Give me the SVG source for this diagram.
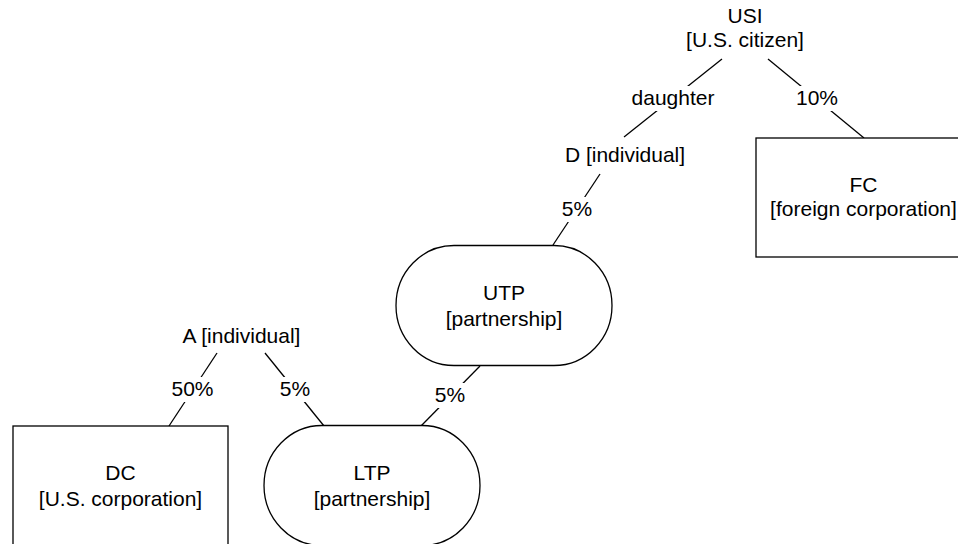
<svg xmlns="http://www.w3.org/2000/svg" width="958" height="544" viewBox="0 0 958 544">
<style>
text{font-family:"Liberation Sans",Arial,sans-serif;font-size:21px;fill:#000;text-anchor:middle}
.shape{fill:#fff;stroke:#000;stroke-width:1.3}
.edge{fill:none;stroke:#000;stroke-width:1.3}
.lbg{fill:#fff;stroke:none}
</style>
<rect width="958" height="544" fill="#fff"/>
<g id="connectors">
  <line class="edge" x1="722" y1="59" x2="624" y2="137"/>
  <rect class="lbg" x="629" y="86" width="88" height="25"/>
  <text x="673" y="105">daughter</text>
  <line class="edge" x1="768" y1="59" x2="864" y2="138"/>
  <rect class="lbg" x="795" y="86" width="44" height="25"/>
  <text x="817" y="105">10%</text>
  <line class="edge" x1="600" y1="174" x2="553" y2="245"/>
  <rect class="lbg" x="560" y="197" width="34" height="25"/>
  <text x="577" y="216">5%</text>
  <line class="edge" x1="480" y1="366" x2="421" y2="426"/>
  <rect class="lbg" x="433" y="383" width="34" height="25"/>
  <text x="450" y="402">5%</text>
  <line class="edge" x1="217" y1="353" x2="169" y2="426"/>
  <rect class="lbg" x="170" y="377" width="45" height="25"/>
  <text x="192.5" y="396">50%</text>
  <line class="edge" x1="265" y1="353" x2="324" y2="426"/>
  <rect class="lbg" x="278" y="377" width="34" height="25"/>
  <text x="295" y="396">5%</text>
</g>
<g id="USI">
  <text x="745" y="23">USI</text>
  <text x="745" y="47">[U.S. citizen]</text>
</g>
<g id="D">
  <text x="625" y="162">D [individual]</text>
</g>
<g id="A">
  <text x="241.5" y="343">A [individual]</text>
</g>
<g id="FC">
  <rect class="shape" x="756" y="138" width="215" height="119"/>
  <text x="863.5" y="192">FC</text>
  <text x="863.5" y="216">[foreign corporation]</text>
</g>
<g id="UTP">
  <rect class="shape" x="396" y="245.5" width="216" height="120" rx="58" ry="60"/>
  <text x="504" y="300">UTP</text>
  <text x="504" y="326">[partnership]</text>
</g>
<g id="LTP">
  <rect class="shape" x="264" y="425.5" width="216" height="120" rx="58" ry="60"/>
  <text x="372" y="480">LTP</text>
  <text x="372" y="506">[partnership]</text>
</g>
<g id="DC">
  <rect class="shape" x="13" y="426" width="215" height="120"/>
  <text x="120.5" y="480">DC</text>
  <text x="120.5" y="506">[U.S. corporation]</text>
</g>
</svg>
